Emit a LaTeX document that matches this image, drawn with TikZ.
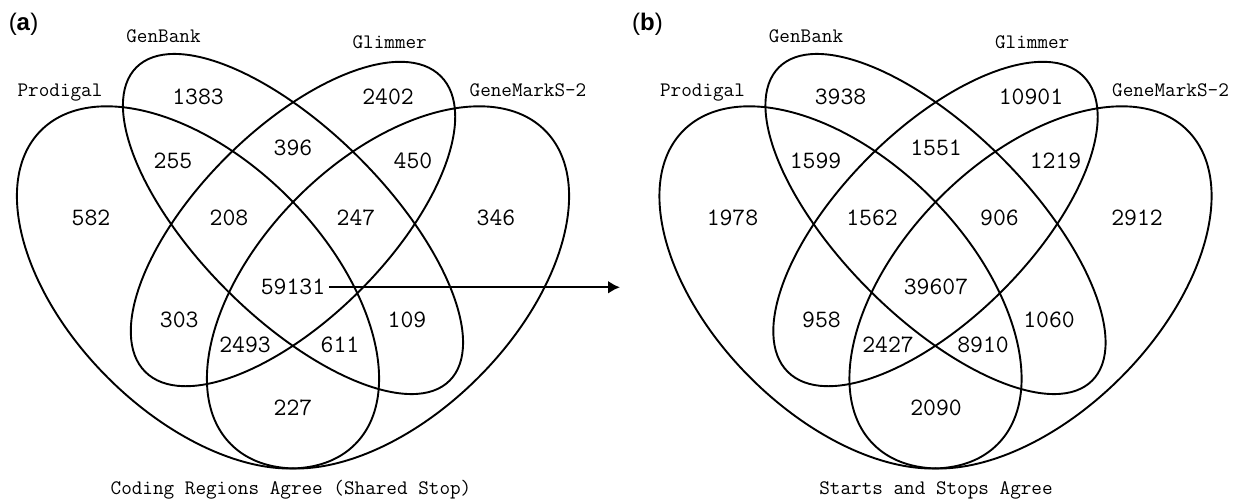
\documentclass[tikz,border=0pt]{standalone}
\usepackage{fontspec}
\usetikzlibrary{arrows.meta}
\newfontfamily\panelfont{Liberation Sans}
\begin{document}
\begin{tikzpicture}[x=1pt,y=-1pt,
  venn/.style={line width=1.9pt},
  count/.style={font=\fontsize{25}{25}\selectfont\ttfamily, inner sep=0pt, anchor=base},
  setname/.style={font=\fontsize{20.6}{20.6}\selectfont\ttfamily, inner sep=0pt, anchor=base},
  title/.style={font=\fontsize{20.6}{20.6}\selectfont\ttfamily, inner sep=0pt, anchor=base},
  panel/.style={font=\fontsize{24}{24}\selectfont\panelfont, inner sep=0pt},
  flow/.style={line width=2.2pt, -{Latex[length=12pt,width=13pt]}}]
\useasboundingbox (0,0) rectangle (1238,500);

% ---------- panel (a): coding regions ----------
\node[panel] (pa) at (23.5,24) {(\textbf{a})};
\begin{scope}
  \draw[venn, rotate around={-45:(198,287.4)}] (198,287.4) ellipse (222pt and 127.6pt);
  \draw[venn, rotate around={-45:(293,224)}] (293,224) ellipse (221.5pt and 93.6pt);
  \draw[venn, rotate around={45:(293,224)}] (293,224) ellipse (209pt and 94.4pt);
  \draw[venn, rotate around={45:(388,287.4)}] (388,287.4) ellipse (222pt and 127.6pt);

  \node[setname] (aprod) at (60,96) {Prodigal};
  \node[setname] (agenb) at (163.5,43) {GenBank};
  \node[setname] (aglim) at (389.7,49) {Glimmer};
  \node[setname] (agmk)  at (528,96) {GeneMarkS-2};

  \node[count] (a1383) at (198,104.6) {1383};
  \node[count] (a2402) at (388,104.6) {2402};
  \node[count] (a255)  at (173,168.3) {255};
  \node[count] (a396)  at (293,155.6) {396};
  \node[count] (a450)  at (413,168.3) {450};
  \node[count] (a582)  at (91,225.9) {582};
  \node[count] (a208)  at (229,225.6) {208};
  \node[count] (a247)  at (356,225.6) {247};
  \node[count] (a346)  at (496,225.9) {346};
  \node[count] (a59131) at (293,294.9) {59131};
  \node[count] (a303)  at (179.3,327.6) {303};
  \node[count] (a109)  at (407,327.6) {109};
  \node[count] (a2493) at (245,352.6) {2493};
  \node[count] (a611)  at (340,352.6) {611};
  \node[count] (a227)  at (293,415.9) {227};

  \node[title] (atitle) at (291,494) {Coding Regions Agree (Shared Stop)};
\end{scope}

% ---------- panel (b): starts and stops ----------
\node[panel] (pb) at (647.5,24) {(\textbf{b})};
\begin{scope}[xshift=642.5pt]
  \draw[venn, rotate around={-45:(198,287.4)}] (198,287.4) ellipse (222pt and 127.6pt);
  \draw[venn, rotate around={-45:(293,224)}] (293,224) ellipse (221.5pt and 93.6pt);
  \draw[venn, rotate around={45:(293,224)}] (293,224) ellipse (209pt and 94.4pt);
  \draw[venn, rotate around={45:(388,287.4)}] (388,287.4) ellipse (222pt and 127.6pt);

  \node[setname] (bprod) at (60,96) {Prodigal};
  \node[setname] (bgenb) at (163.5,43) {GenBank};
  \node[setname] (bglim) at (389.7,49) {Glimmer};
  \node[setname] (bgmk)  at (528,96) {GeneMarkS-2};

  \node[count] (b3938)  at (198,104.6) {3938};
  \node[count] (b10901) at (388.5,104.6) {10901};
  \node[count] (b1599)  at (173,168.3) {1599};
  \node[count] (b1551)  at (293.5,155.6) {1551};
  \node[count] (b1219)  at (413,168.3) {1219};
  \node[count] (b1978)  at (90,225.9) {1978};
  \node[count] (b1562)  at (229.5,225.6) {1562};
  \node[count] (b906)   at (357,225.6) {906};
  \node[count] (b2912)  at (494.5,225.9) {2912};
  \node[count] (b39607) at (293.5,294.9) {39607};
  \node[count] (b958)   at (179,327.6) {958};
  \node[count] (b1060)  at (406.5,327.6) {1060};
  \node[count] (b2427)  at (245.5,352.6) {2427};
  \node[count] (b8910)  at (340.5,352.6) {8910};
  \node[count] (b2090)  at (293.5,415.9) {2090};

  \node[title] (btitle) at (293.5,494) {Starts and Stops Agree};
\end{scope}

% arrow from the shared core of (a) towards (b)
\coordinate (arrowtip) at (620,287);
\draw[flow] ([xshift=4pt]a59131.east) -- (a59131.east -| arrowtip);
\end{tikzpicture}
\end{document}
